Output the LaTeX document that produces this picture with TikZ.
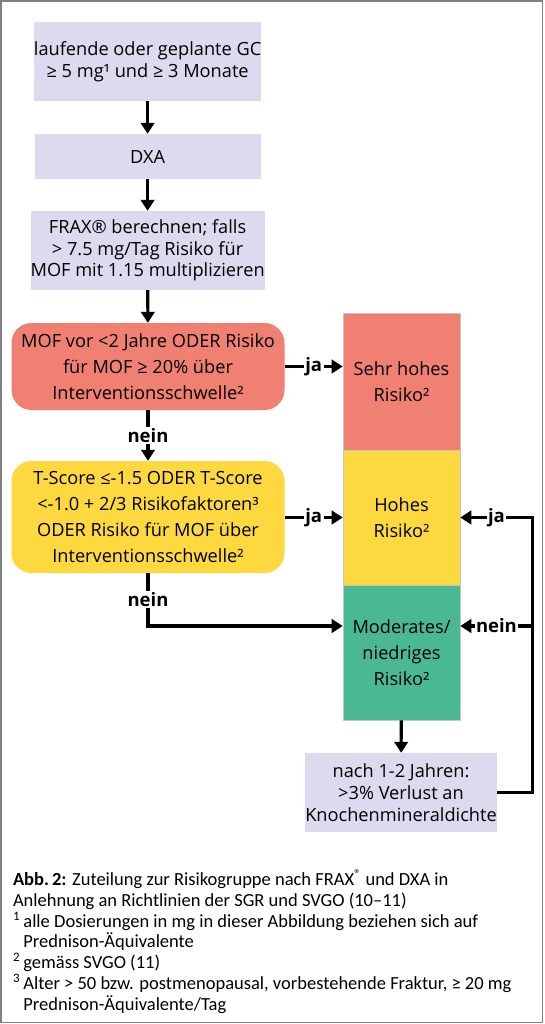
\documentclass[tikz,border=0pt]{standalone}
\usepackage{fontspec}
\setmainfont{Open Sans}
\newfontfamily\capfont{Carlito}
\usetikzlibrary{arrows.meta,calc}
\definecolor{lav}{RGB}{221,217,238}
\definecolor{rred}{RGB}{240,128,114}
\definecolor{ryel}{RGB}{253,216,62}
\definecolor{rgrn}{RGB}{74,184,148}
\definecolor{frame}{RGB}{128,128,128}
\begin{document}
\begin{tikzpicture}[x=1pt,y=1pt,
  lavbox/.style={fill=lav,inner sep=0pt,align=center,minimum width=226pt,font=\fontsize{18.2}{21.7}\selectfont},
  decbox/.style={rounded corners=20pt,inner sep=0pt,align=center,minimum width=273pt,font=\fontsize{18.2}{26}\selectfont},
  riskbox/.style={draw=gray!45,line width=0.6pt,inner sep=0pt,align=center,minimum width=117pt,font=\fontsize{18.2}{26}\selectfont},
  arr/.style={line width=3.1pt,-{Triangle[length=11pt,width=13.5pt]}},
  lab/.style={fill=white,inner sep=1.5pt,font=\bfseries\fontsize{18.5}{20}\selectfont},
  capline/.style={anchor=base west,inner sep=0pt,font=\capfont\fontsize{18.5}{20}\selectfont}]
\useasboundingbox (0,0) rectangle (544,-1024);
\draw[frame,line width=1.5pt] (1,-1) rectangle (542.5,-1022.5);
% left column
\node[lavbox,minimum height=79pt] (b1) at (147.6,-61.5) {laufende oder geplante GC\\≥ 5 mg¹ und ≥ 3 Monate};
\node[lavbox,minimum height=45pt] (b2) at (147.6,-156.5) {DXA};
\node[lavbox,minimum height=79pt] (b3) at (147.6,-250.5) {FRAX® berechnen; falls\\> 7.5 mg/Tag Risiko für\\MOF mit 1.15 multiplizieren};
\node[decbox,fill=rred,minimum height=87pt] (r1) at (148,-366.5) {MOF vor <2 Jahre ODER Risiko\\für MOF ≥ 20\% über\\Interventionsschwelle²};
\node[decbox,fill=ryel,minimum height=112pt] (y1) at (148,-517) {T-Score ≤-1.5 ODER T-Score\\<-1.0 + 2/3 Risikofaktoren³\\ODER Risiko für MOF über\\Interventionsschwelle²};
% risk column
\node[riskbox,fill=rred,minimum height=137pt] (rs) at (401.5,-381.5) {Sehr hohes\\Risiko²};
\node[riskbox,fill=ryel,minimum height=135pt] (ys) at (401.5,-517.5) {Hohes\\Risiko²};
\node[riskbox,fill=rgrn,minimum height=135pt] (gs) at (401.5,-652.5) {Moderates/\\niedriges\\Risiko²};
\node[lavbox,minimum width=190pt,minimum height=79pt] (b4) at (401,-792.5) {nach 1-2 Jahren:\\>3\% Verlust an\\Knochenmineraldichte};
% coordinates
\coordinate (fr) at (532.6,-517.5);
\coordinate (fn) at (532.6,-626);
\path (gs.west) ++(0,26.5) coordinate (gsin);
% connectors
\draw[arr] (b1) -- (b2);
\draw[arr] (b2) -- (b3);
\draw[arr] (b3) -- (r1);
\draw[arr] (r1) -- node[lab]{nein} (y1);
\draw[arr] (r1.east) -- node[lab]{ja} (rs.west |- r1.east);
\draw[arr] (y1.east |- ys.west) -- node[lab]{ja} (ys.west);
\draw[arr] (y1.south) |- node[lab,pos=0.25]{nein} (gsin);
\draw[arr] (gs) -- (b4);
\draw[arr] (b4.east) -| (fr) -- node[lab]{ja} (ys.east);
\draw[arr] (fn) -- node[lab]{nein} (gs.east |- fn);
% caption
\node[capline] (c1) at (12.8,-885) {\textbf{Abb.\,2:} Zuteilung zur Risikogruppe nach FRAX\textsuperscript{®} und DXA in};
\node[capline] (c2) at (12.8,-906) {Anlehnung an Richtlinien der SGR und SVGO (10–11)};
\node[capline] (c3) at (12.8,-927) {\textsuperscript{1}};
\node[capline] (c3b) at (23.2,-927) {alle Dosierungen in mg in dieser Abbildung beziehen sich auf};
\node[capline] (c4) at (23.2,-947) {Prednison-Äquivalente};
\node[capline] (c5) at (12.8,-968) {\textsuperscript{2}};
\node[capline] (c5b) at (23.2,-968) {gemäss SVGO (11)};
\node[capline] (c6) at (12.8,-989) {\textsuperscript{3}};
\node[capline] (c6b) at (23.2,-989) {Alter > 50 bzw. postmenopausal, vorbestehende Fraktur, ≥ 20 mg};
\node[capline] (c7) at (23.2,-1010) {Prednison-Äquivalente/Tag};
\end{tikzpicture}
\end{document}
